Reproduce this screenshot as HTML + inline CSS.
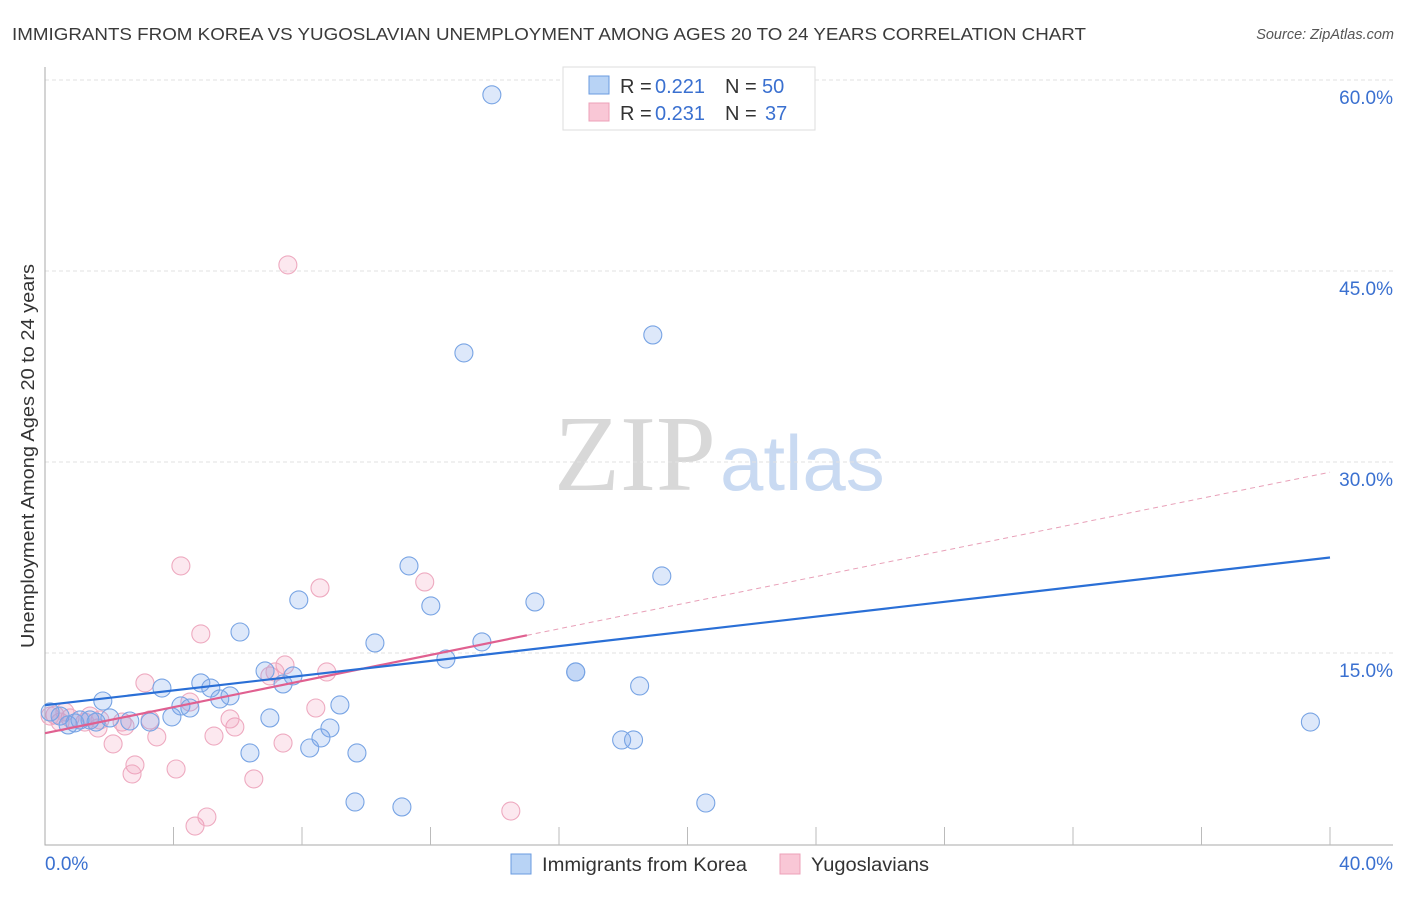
<!DOCTYPE html>
<html><head><meta charset="utf-8"><style>
body{margin:0;background:#fff;font-family:"Liberation Sans",sans-serif}
#c{position:relative;width:1406px;height:892px}
</style></head><body>
<div id="c">
<svg id="s" width="1406" height="892">
<text x="12" y="40" font-size="17.5" fill="#3a3a3a" textLength="1074" lengthAdjust="spacingAndGlyphs">IMMIGRANTS FROM KOREA VS YUGOSLAVIAN UNEMPLOYMENT AMONG AGES 20 TO 24 YEARS CORRELATION CHART</text>
<text x="1394" y="39" font-size="14.5" fill="#555" font-style="italic" text-anchor="end">Source: ZipAtlas.com</text>
<text x="716" y="490" font-size="108" fill="#d8d8d8" text-anchor="end" font-family="Liberation Serif">ZIP</text>
<text x="720" y="490" font-size="78" fill="#c9daf2">atlas</text>
<text transform="translate(34,456) rotate(-90)" font-size="18" fill="#333" text-anchor="middle" textLength="384" lengthAdjust="spacingAndGlyphs">Unemployment Among Ages 20 to 24 years</text>
<g id="grid"></g><g id="marks"></g>
<g>
<rect x="563" y="67" width="252" height="63" fill="#fff" stroke="#ddd"/>
<rect x="589" y="76" width="20" height="18" fill="#b8d3f5" stroke="#6a9be0"/>
<rect x="589" y="103" width="20" height="18" fill="#f9c7d6" stroke="#eda0b8"/>
<text x="620" y="93" font-size="20" fill="#333">R =</text><text x="655" y="93" font-size="20" fill="#3a70d0">0.221</text>
<text x="725" y="93" font-size="20" fill="#333">N =</text><text x="762" y="93" font-size="20" fill="#3a70d0">50</text>
<text x="620" y="120" font-size="20" fill="#333">R =</text><text x="655" y="120" font-size="20" fill="#3a70d0">0.231</text>
<text x="725" y="120" font-size="20" fill="#333">N =</text><text x="765" y="120" font-size="20" fill="#3a70d0">37</text>
</g>
<g>
<rect x="511" y="854" width="20" height="20" fill="#b8d3f5" stroke="#6a9be0"/>
<text x="542" y="871" font-size="19" fill="#333" textLength="205" lengthAdjust="spacingAndGlyphs">Immigrants from Korea</text>
<rect x="780" y="854" width="20" height="20" fill="#f9c7d6" stroke="#eda0b8"/>
<text x="811" y="871" font-size="19" fill="#333" textLength="118" lengthAdjust="spacingAndGlyphs">Yugoslavians</text>
</g>
</svg>
</div>
<script>
const yTicks=[15,30,45,60];
const yTickLabels=["15.0%","30.0%","45.0%","60.0%"];
const xTickLabels=["0.0%","40.0%"];
const koreaX=[13.91,13.04,18.92,11.33,19.20,7.90,12.01,15.25,6.07,10.27,13.60,12.48,16.52,16.52,6.85,7.72,7.41,4.85,5.16,5.76,3.64,1.80,4.23,4.51,5.44,9.18,7.00,8.87,8.59,8.24,6.38,9.71,17.95,18.32,18.51,39.39,9.65,11.11,20.57,3.95,3.27,2.64,2.02,1.40,0.93,0.47,0.16,0.72,1.09,1.59];
const koreaY=[58.84,38.57,39.98,21.84,21.05,19.17,18.70,19.01,16.65,15.79,15.87,14.53,13.51,13.51,13.59,13.20,12.57,12.65,12.25,11.63,12.25,11.23,10.84,10.68,11.39,10.92,9.90,9.11,8.33,7.54,7.15,7.15,8.17,8.17,12.41,9.58,3.30,2.91,3.22,9.98,9.58,9.66,9.90,9.74,9.51,10.05,10.37,9.35,9.74,9.58];
const yugoX=[7.56,4.23,8.56,11.82,4.85,3.11,7.47,7.00,8.77,4.51,8.43,5.91,5.26,3.48,1.65,2.12,2.80,2.71,4.08,6.50,4.67,5.04,14.50,7.41,2.40,1.71,1.40,0.78,0.31,0.47,3.27,2.49,5.76,1.24,0.16,0.62,7.16];
const yugoY=[45.48,21.84,20.11,20.58,16.50,12.65,14.06,13.20,13.51,11.15,10.68,9.19,8.48,8.41,9.11,7.86,6.21,5.50,5.89,5.11,1.41,2.12,2.59,7.93,9.58,9.74,10.05,9.90,10.13,9.58,9.74,9.27,9.82,9.58,10.05,10.37,13.51];
const koreaTrend=[10.9,22.5];
const yugoTrend=[8.7,29.2];
const yugoSolidEnd=15;
const X=v=>45+v*32.125, Y=v=>844-v*12.733;
const NS="http://www.w3.org/2000/svg";
const g=document.getElementById('grid'), m=document.getElementById('marks');
function el(t,a,p){const e=document.createElementNS(NS,t);for(const k in a)e.setAttribute(k,a[k]);p.appendChild(e);return e;}
yTicks.forEach((v,i)=>{
 const l=el('line',{x1:45,x2:1393,y1:Y(v),y2:Y(v),stroke:'#e2e2e2','stroke-dasharray':'4 3'},g);
 
 
 const t=el('text',{x:1393,y:Y(v)+24,'font-size':19,fill:'#3a70d0','text-anchor':'end'},g);
 t.textContent=yTickLabels[i];
 
 
});
const ax=el('path',{d:`M45 67 V845 H1393`,stroke:'#aaa',fill:'none'},g);


for(let i=1;i<=10;i++){const t=el('line',{x1:X(i*4),x2:X(i*4),y1:827,y2:845,stroke:'#bbb'},g);
 
 }
[[0,'start',45],[40,'end',1393]].forEach((a,i)=>{const t=el('text',{x:a[2],y:870,'font-size':19,fill:'#3a70d0','text-anchor':a[1]},g);t.textContent=xTickLabels[i];
 
 });
yugoX.forEach((x,i)=>{const c=el('circle',{cx:X(x),cy:Y(yugoY[i]),r:9,fill:'rgba(240,150,180,0.22)',stroke:'#eeaac0','stroke-width':1.1},m);
 
 });
koreaX.forEach((x,i)=>{const c=el('circle',{cx:X(x),cy:Y(koreaY[i]),r:9,fill:'rgba(120,165,235,0.25)',stroke:'#78a4e4','stroke-width':1.1},m);
 
 });
const yv=x=>yugoTrend[0]+(yugoTrend[1]-yugoTrend[0])*x/40;
let l1=el('line',{x1:X(yugoSolidEnd),y1:Y(yv(yugoSolidEnd)),x2:X(40),y2:Y(yugoTrend[1]),stroke:'#e8a0b8','stroke-dasharray':'5 4','stroke-width':1},m);


let l2=el('line',{x1:X(0),y1:Y(yugoTrend[0]),x2:X(yugoSolidEnd),y2:Y(yv(yugoSolidEnd)),stroke:'#e06090','stroke-width':2.2},m);


let l3=el('line',{x1:X(0),y1:Y(koreaTrend[0]),x2:X(40),y2:Y(koreaTrend[1]),stroke:'#2a6fd6','stroke-width':2.2},m);


</script>
</body></html>
